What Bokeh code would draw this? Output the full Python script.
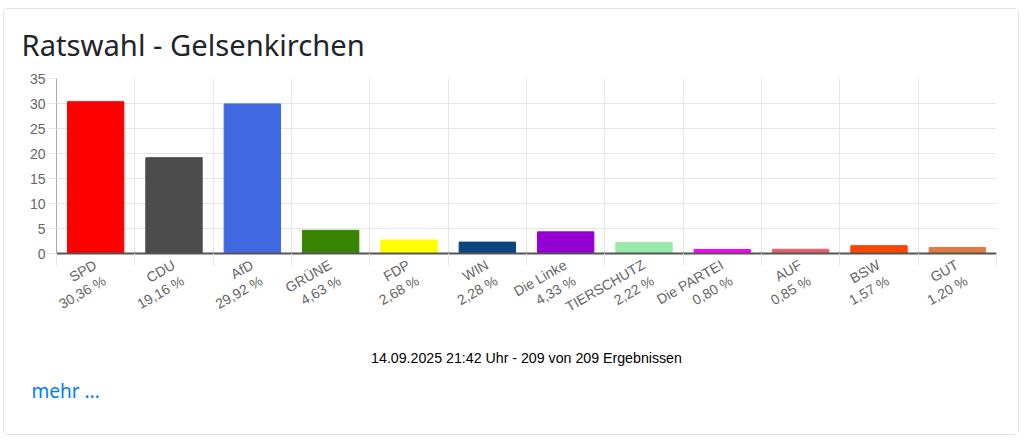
from bokeh.embed import file_html
from bokeh.models import ColumnDataSource, FactorRange, FixedTicker, LinearAxis, Title
from bokeh.plotting import figure
from bokeh.resources import INLINE

# Ergebnisse Ratswahl
parteien = ["SPD", "CDU", "AfD", "GRÜNE", "FDP", "WIN", "Die Linke", "TIERSCHUTZ", "Die PARTEI", "AUF", "BSW", "GUT"]
prozent = [30.36, 19.16, 29.92, 4.63, 2.68, 2.28, 4.33, 2.22, 0.80, 0.85, 1.57, 1.20]
farben = ["#ff0000", "#4c4c4c", "#4169e1", "#388400", "#ffff00", "#0a4580",
          "#9400d3", "#98e8aa", "#ff00ff", "#e0606e", "#ff4500", "#e07b45"]
y_ticks = [0, 5, 10, 15, 20, 25, 30, 35]
kanten = list(range(len(parteien) + 1))

labels = [f"{n}\n{str(format(v, '.2f')).replace('.', ',')} %" for n, v in zip(parteien, prozent)]
source = ColumnDataSource(data=dict(x=labels, y=prozent, color=farben))

# Beschriftung sitzt etwas rechts von der Balkenmitte
label_ticks = [i + 0.555 for i in range(len(labels))]

GRAU = "#e6e6e6"
TEXT = "#666666"

p = figure(x_range=FactorRange(factors=labels, range_padding=0), y_range=(0, 35),
           title="Ratswahl - Gelsenkirchen", width=1016, height=427,
           min_border_left=52, min_border_top=69,
           min_border_right=24, min_border_bottom=183, tools="", toolbar_location=None,
           output_backend="svg", margin=(8, 0, 0, 3),
           styles={"border": "1px solid #e4e4e4", "border-radius": "4px", "box-sizing": "border-box"})

p.vbar(x="x", top="y", width=0.72, color="color", source=source)

p.title.text_font = "Noto Sans"
p.title.text_font_size = "29.2px"
p.title.text_font_style = "normal"
p.title.text_color = "#212529"
p.title.offset = -35
p.title.standoff = 27

p.outline_line_color = None
p.xgrid.ticker = FixedTicker(ticks=kanten)
p.xgrid.grid_line_color = GRAU
p.ygrid.grid_line_color = GRAU

p.yaxis.ticker = FixedTicker(ticks=y_ticks)
p.yaxis.axis_line_color = "#aaaaaa"
p.yaxis.major_tick_line_color = GRAU
p.yaxis.major_tick_in = 0
p.yaxis.major_tick_out = 9
p.yaxis.minor_tick_line_color = None
p.yaxis.major_label_text_font = "Liberation Sans"
p.yaxis.major_label_text_font_size = "14px"
p.yaxis.major_label_text_color = TEXT
p.yaxis.major_label_standoff = 2

namen_achse = LinearAxis(ticker=FixedTicker(ticks=label_ticks),
                         major_label_overrides=dict(zip(label_ticks, labels)),
                         axis_line_color=None, major_tick_line_color=None, minor_tick_line_color=None,
                         major_label_orientation=0.52, major_label_text_font="Liberation Sans",
                         major_label_text_font_size="14px", major_label_text_color=TEXT,
                         major_label_standoff=0, major_label_text_line_height=1.15)

# Kantenstriche zwischen den Parteien und kraeftige Nulllinie
kanten_achse = LinearAxis(ticker=FixedTicker(ticks=[], minor_ticks=kanten),
                          axis_line_color="#555555", axis_line_width=2,
                          major_tick_line_color=None, minor_tick_line_color=GRAU,
                          minor_tick_in=0, minor_tick_out=12, major_label_standoff=0)
p.below = [kanten_achse, namen_achse]

p.add_layout(Title(text="14.09.2025 21:42 Uhr - 209 von 209 Ergebnissen", align="center",
                   text_font="Liberation Sans", text_font_size="14.2px", text_font_style="normal",
                   text_color="#000000", standoff=-2), "below")
p.add_layout(Title(text="mehr ...", align="left", offset=-25, standoff=23,
                   text_font="Noto Sans", text_font_size="19px", text_font_style="normal",
                   text_color="#007bff"), "below")

open("out.html", "w").write(file_html(p, INLINE))
